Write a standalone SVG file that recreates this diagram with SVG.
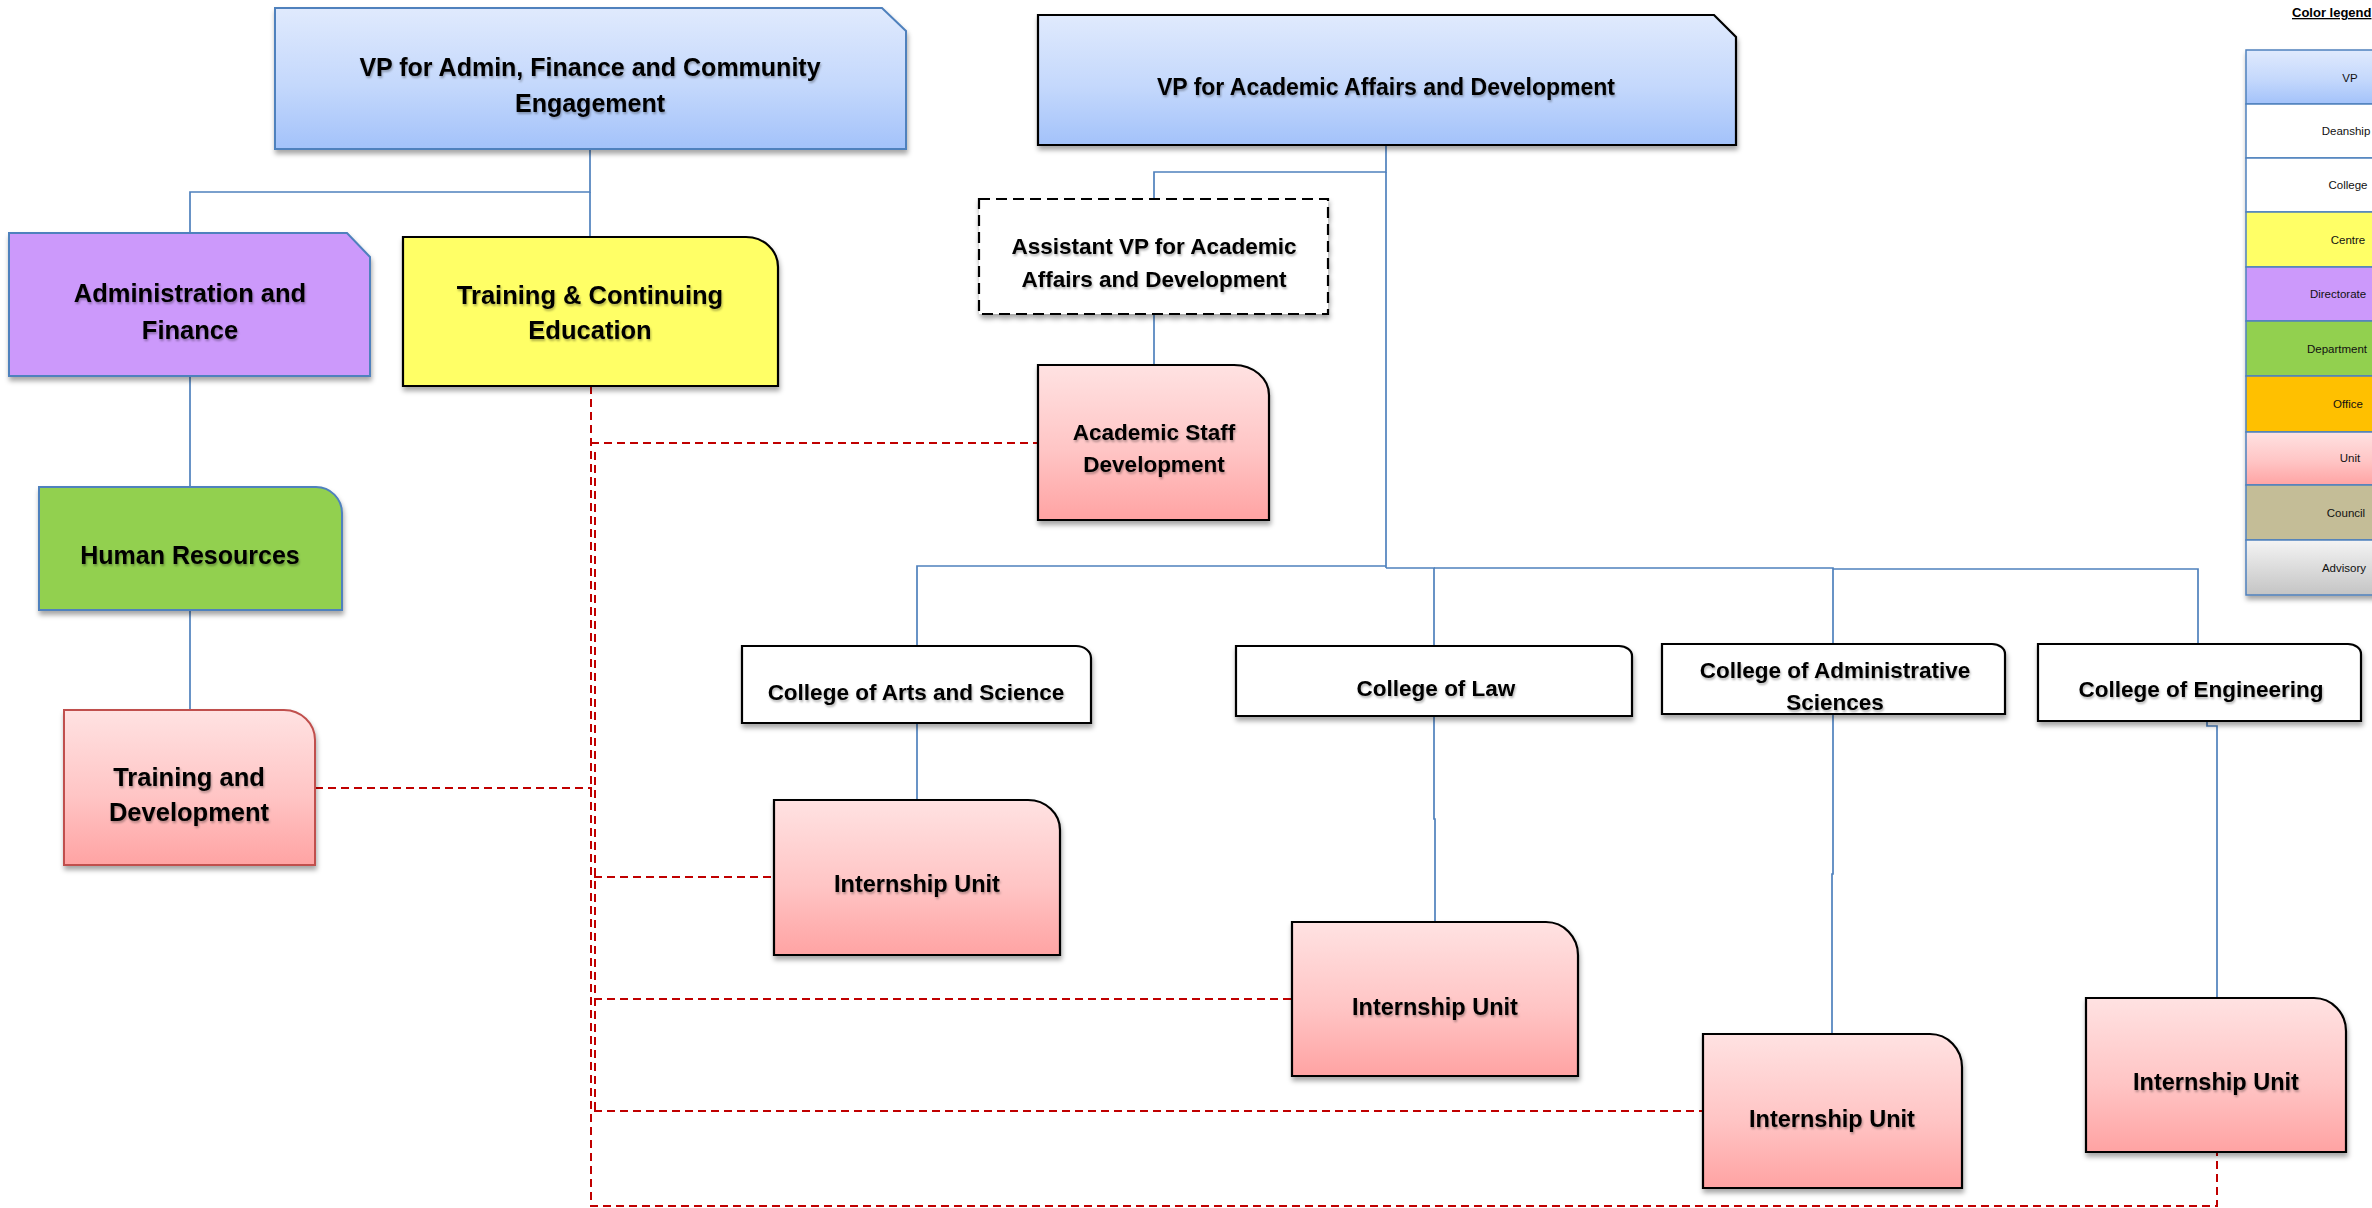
<svg xmlns="http://www.w3.org/2000/svg" width="2372" height="1208" viewBox="0 0 2372 1208">
<defs>
<linearGradient id="gBlue" x1="0" y1="0" x2="0" y2="1"><stop offset="0" stop-color="#e0eafd"/><stop offset="0.55" stop-color="#c4d8fc"/><stop offset="1" stop-color="#a3c2fa"/></linearGradient>
<linearGradient id="gPink" x1="0" y1="0" x2="0" y2="1"><stop offset="0" stop-color="#ffe2e2"/><stop offset="0.55" stop-color="#ffc5c5"/><stop offset="1" stop-color="#ffa3a3"/></linearGradient>
<linearGradient id="gGray" x1="0" y1="0" x2="0" y2="1"><stop offset="0" stop-color="#f4f4f4"/><stop offset="1" stop-color="#c4c4c4"/></linearGradient>
<filter id="sh" x="-10%" y="-10%" width="130%" height="140%"><feDropShadow dx="1" dy="4" stdDeviation="2.5" flood-color="#000" flood-opacity="0.35"/></filter>
<filter id="ts" x="-5%" y="-20%" width="110%" height="150%"><feDropShadow dx="1" dy="2" stdDeviation="1.2" flood-color="#000" flood-opacity="0.3"/></filter>
<style>
.t{font-family:"Liberation Sans",Arial,sans-serif;font-weight:bold;text-anchor:middle;fill:#000;filter:url(#ts)}
.lg{font-family:"Liberation Sans",Arial,sans-serif;font-size:11.5px;text-anchor:middle;fill:#111}
.conn{fill:none;stroke:#4f81bd;stroke-width:1.7}
.dash{fill:none;stroke:#c00000;stroke-width:2;stroke-dasharray:8 5}
.sh{filter:url(#sh)}
.bk{stroke:#000;stroke-width:2.2}
.bl{stroke:#4f81bd;stroke-width:2}
.lgb{stroke:#4f81bd;stroke-width:1.5}
</style>
</defs>
<rect width="2372" height="1208" fill="#fff"/>

<g id="connectors">
<path class="conn" d="M590 149 V192 H190 V233"/>
<path class="conn" d="M590 192 V237"/>
<path class="conn" d="M190 376 V487"/>
<path class="conn" d="M190 610 V710"/>
<path class="conn" d="M1386 145 V172 H1154 V199"/>
<path class="conn" d="M1154 314 V365"/>
<path class="conn" d="M1386 172 V568"/>
<path class="conn" d="M917 646 V566 H1386"/>
<path class="conn" d="M1386 568 H1434 V646"/>
<path class="conn" d="M1434 568 H1833 V644"/>
<path class="conn" d="M1833 569 H2198 V644"/>
<path class="conn" d="M917 723 V800"/>
<path class="conn" d="M1434 716 V819 H1435 V922"/>
<path class="conn" d="M1833 714 V874 H1832 V1034"/>
<path class="conn" d="M2207 721 V726 H2217 V998"/>
<path class="dash" d="M591 386 V1206 H2217 V1153"/>
<path class="dash" d="M595 452 V1111"/>
<path class="dash" d="M591 443 H1038"/>
<path class="dash" d="M315 788 H592"/>
<path class="dash" d="M594 877 H774"/>
<path class="dash" d="M594 999 H1292"/>
<path class="dash" d="M594 1111 H1703"/>
</g>

<g id="vp-admin">
<path class="sh bl" d="M275 8 H882 L906 31 V149 H275 Z" fill="url(#gBlue)"/>
<text class="t" font-size="25" x="590" y="76">VP for Admin, Finance and Community</text>
<text class="t" font-size="25" x="590" y="112">Engagement</text>
</g>

<g id="vp-academic">
<path class="sh bk" d="M1038 15 H1714 L1736 37 V145 H1038 Z" fill="url(#gBlue)"/>
<text class="t" font-size="23" x="1386" y="95">VP for Academic Affairs and Development</text>
</g>

<g id="admin-finance">
<path class="sh bl" d="M9 233 H347 L370 257 V376 H9 Z" fill="#cc99fb"/>
<text class="t" font-size="25.5" x="190" y="302">Administration and</text>
<text class="t" font-size="25.5" x="190" y="339">Finance</text>
</g>

<g id="training-ce">
<path class="sh bk" d="M403 237 H746 A32 30 0 0 1 778 267 V386 H403 Z" fill="#ffff66"/>
<text class="t" font-size="25.5" x="590" y="304">Training &amp; Continuing</text>
<text class="t" font-size="25.5" x="590" y="339">Education</text>
</g>

<g id="human-resources">
<path class="sh bl" d="M39 487 H316 A26 26 0 0 1 342 513 V610 H39 Z" fill="#92d050"/>
<text class="t" font-size="25" x="190" y="564">Human Resources</text>
</g>

<g id="training-development">
<path class="sh" stroke="#c0504d" stroke-width="2" d="M64 710 H284 A31 30 0 0 1 315 740 V865 H64 Z" fill="url(#gPink)"/>
<text class="t" font-size="25.5" x="189" y="786">Training and</text>
<text class="t" font-size="25.5" x="189" y="821">Development</text>
</g>

<g id="assistant-vp">
<rect class="sh" x="979" y="199" width="349" height="115" fill="#fff" stroke="#000" stroke-width="2.2" stroke-dasharray="11 6"/>
<text class="t" font-size="22.5" x="1154" y="254">Assistant VP for Academic</text>
<text class="t" font-size="22.5" x="1154" y="287">Affairs and Development</text>
</g>

<g id="academic-staff">
<path class="sh bk" d="M1038 365 H1234 A35 30 0 0 1 1269 395 V520 H1038 Z" fill="url(#gPink)"/>
<text class="t" font-size="22.5" x="1154" y="440">Academic Staff</text>
<text class="t" font-size="22.5" x="1154" y="472">Development</text>
</g>

<g id="college-arts">
<path class="sh bk" d="M742 646 H1076 A15 12 0 0 1 1091 658 V723 H742 Z" fill="#fff"/>
<text class="t" font-size="22.5" x="916" y="700">College of Arts and Science</text>
</g>

<g id="college-law">
<path class="sh bk" d="M1236 646 H1619 A13 10 0 0 1 1632 656 V716 H1236 Z" fill="#fff"/>
<text class="t" font-size="22.5" x="1436" y="696">College of Law</text>
</g>

<g id="college-admin-sci">
<path class="sh bk" d="M1662 644 H1992 A13 10 0 0 1 2005 654 V714 H1662 Z" fill="#fff"/>
<text class="t" font-size="22.5" x="1835" y="678">College of Administrative</text>
<text class="t" font-size="22.5" x="1835" y="710">Sciences</text>
</g>

<g id="college-eng">
<path class="sh bk" d="M2038 644 H2348 A13 10 0 0 1 2361 654 V721 H2038 Z" fill="#fff"/>
<text class="t" font-size="22.5" x="2201" y="697">College of Engineering</text>
</g>

<g id="internship-arts">
<path class="sh bk" d="M774 800 H1028 A32 30 0 0 1 1060 830 V955 H774 Z" fill="url(#gPink)"/>
<text class="t" font-size="23.5" x="917" y="892">Internship Unit</text>
</g>

<g id="internship-law">
<path class="sh bk" d="M1292 922 H1546 A32 33 0 0 1 1578 955 V1076 H1292 Z" fill="url(#gPink)"/>
<text class="t" font-size="23.5" x="1435" y="1015">Internship Unit</text>
</g>

<g id="internship-admin">
<path class="sh bk" d="M1703 1034 H1930 A32 33 0 0 1 1962 1067 V1188 H1703 Z" fill="url(#gPink)"/>
<text class="t" font-size="23.5" x="1832" y="1127">Internship Unit</text>
</g>

<g id="internship-eng">
<path class="sh bk" d="M2086 998 H2314 A32 33 0 0 1 2346 1031 V1152 H2086 Z" fill="url(#gPink)"/>
<text class="t" font-size="23.5" x="2216" y="1090">Internship Unit</text>
</g>

<g id="legend">
<text x="2292" y="17" font-family="Liberation Sans,Arial,sans-serif" font-size="13" font-weight="bold" text-decoration="underline" fill="#000">Color legend</text>
<g class="sh">
<rect class="lgb" x="2246" y="50" width="214" height="54" fill="url(#gBlue)"/>
<rect class="lgb" x="2246" y="104" width="214" height="54" fill="#fff"/>
<rect class="lgb" x="2246" y="158" width="214" height="54" fill="#fff"/>
<rect class="lgb" x="2246" y="212" width="214" height="55" fill="#ffff66"/>
<rect class="lgb" x="2246" y="267" width="214" height="54" fill="#cc99fb"/>
<rect class="lgb" x="2246" y="321" width="214" height="55" fill="#92d050"/>
<rect class="lgb" x="2246" y="376" width="214" height="56" fill="#ffc000"/>
<rect class="lgb" x="2246" y="432" width="214" height="53" fill="url(#gPink)"/>
<rect class="lgb" x="2246" y="485" width="214" height="55" fill="#c4bd97"/>
<rect class="lgb" x="2246" y="540" width="214" height="55" fill="url(#gGray)"/>
</g>
<text class="lg" x="2350" y="82">VP</text>
<text class="lg" x="2346" y="135">Deanship</text>
<text class="lg" x="2348" y="189">College</text>
<text class="lg" x="2348" y="244">Centre</text>
<text class="lg" x="2338" y="298">Directorate</text>
<text class="lg" x="2337" y="353">Department</text>
<text class="lg" x="2348" y="408">Office</text>
<text class="lg" x="2350" y="462">Unit</text>
<text class="lg" x="2346" y="517">Council</text>
<text class="lg" x="2344" y="572">Advisory</text>
</g>
</svg>
